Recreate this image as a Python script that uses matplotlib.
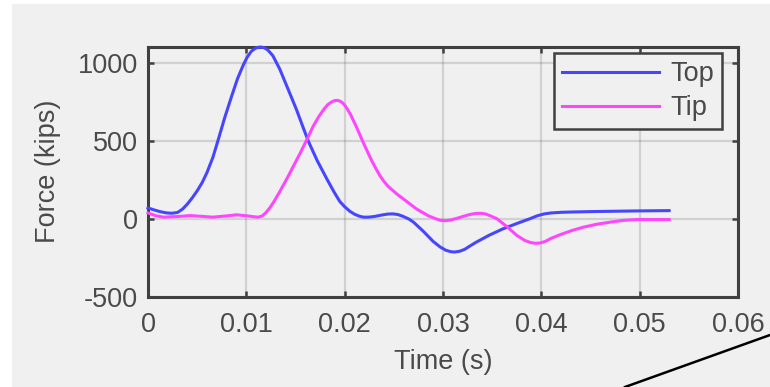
import matplotlib
matplotlib.use("Agg")
import matplotlib.pyplot as plt
from matplotlib.patches import Rectangle
from matplotlib.lines import Line2D

plt.rcParams['font.family'] = ['Liberation Sans', 'DejaVu Sans']

# Force histories at the pile top and tip
t_top = [0.0000, 0.0006, 0.0012, 0.0018, 0.0024, 0.0030, 0.0035, 0.0040, 0.0045, 0.0050,
         0.0055, 0.0060, 0.0066, 0.00715, 0.0078, 0.0085, 0.0091, 0.0097, 0.0101, 0.0105,
         0.0109, 0.0112, 0.01146, 0.0118, 0.0122, 0.0127, 0.0134, 0.0142, 0.0151, 0.0157,
         0.0163, 0.0172, 0.0182, 0.0189, 0.0195, 0.0200, 0.0205, 0.0210, 0.0215, 0.0219,
         0.0224, 0.0230, 0.0238, 0.0244, 0.0249, 0.0254, 0.0259, 0.0265, 0.0270, 0.0280,
         0.0290, 0.0297, 0.0303, 0.0308, 0.0312, 0.0317, 0.0322, 0.0328, 0.0334, 0.0347,
         0.0361, 0.0375, 0.0388, 0.0396, 0.0403, 0.0410, 0.0420, 0.0430, 0.0453, 0.0475,
         0.0497, 0.0530]
f_top = [70, 58, 47, 39, 36, 41, 62, 95, 135, 180,
         232, 298, 395, 510, 650, 787, 900, 990, 1040, 1076,
         1095, 1102, 1104, 1100, 1084, 1048, 962, 840, 702, 600,
         500, 375, 255, 175, 112, 78, 50, 30, 17, 11,
         11, 15, 25, 31, 32, 28, 17, 0, -21, -80,
         -145, -180, -202, -211, -213, -208, -196, -172, -149, -105,
         -64, -30, 0, 20, 32, 38, 42, 44, 47, 49,
         51, 53]

t_tip = [0.0000, 0.0008, 0.00156, 0.0030, 0.0043, 0.0055, 0.0066, 0.0078, 0.0090, 0.0100,
         0.0107, 0.0112, 0.0116, 0.0120, 0.0124, 0.0128, 0.0134, 0.0141, 0.0148, 0.0155,
         0.0162, 0.0168, 0.0174, 0.0179, 0.0183, 0.0187, 0.0190, 0.0193, 0.0196, 0.0199,
         0.0202, 0.0206, 0.0212, 0.0219, 0.0227, 0.0232, 0.0236, 0.0240, 0.0244, 0.0253,
         0.0263, 0.0273, 0.0285, 0.0292, 0.0297, 0.0302, 0.0308, 0.0314, 0.0320, 0.0326,
         0.0332, 0.0338, 0.0343, 0.0348, 0.0355, 0.0365, 0.0375, 0.0383, 0.0389, 0.0394,
         0.0399, 0.0404, 0.0410, 0.0419, 0.0431, 0.0443, 0.0456, 0.0470, 0.0483, 0.0497,
         0.0530]
f_tip = [38, 20, 11, 15, 21, 16, 11, 18, 26, 20,
         14, 11, 18, 40, 72, 110, 175, 255, 340, 425,
         515, 595, 660, 705, 735, 752, 760, 761, 754, 738,
         713, 670, 590, 489, 380, 320, 276, 240, 210, 160,
         112, 64, 20, 2, -9, -12, -7, 3, 15, 26,
         34, 36, 32, 20, 0, -50, -106, -138, -152, -157,
         -155, -145, -125, -102, -75, -53, -35, -21, -10, -4,
         -4]

x_ticks = [0, 0.01, 0.02, 0.03, 0.04, 0.05, 0.06]
x_tick_labels = ['0', '0.01', '0.02', '0.03', '0.04', '0.05', '0.06']
y_ticks = [-500, 0, 500, 1000]
y_tick_labels = ['-500', '0', '500', '1000']

W, H = 770, 387
fig = plt.figure(figsize=(W / 100, H / 100), dpi=100, facecolor='white')

# grey panel behind the axes
fig.add_artist(Rectangle((12 / W, 0), 1 - 12 / W, (H - 4) / H,
                         transform=fig.transFigure, facecolor='#f0f0f0',
                         edgecolor='none', zorder=-5))

ax = fig.add_axes([148 / W, 1 - 296.7 / H, (738 - 148) / W, (296.7 - 46.7) / H])
ax.set_facecolor('#f0f0f0')

ax.plot(t_top, f_top, color='#4646ff', lw=2.2, label='Top', zorder=3,
        solid_joinstyle='round', clip_on=False)
ax.plot(t_tip, f_tip, color='#ff46ff', lw=2.2, label='Tip', zorder=3,
        solid_joinstyle='round', clip_on=False)

ax.set_xlim(0, 0.06)
ax.set_ylim(-500, 1106)
ax.set_xticks(x_ticks)
ax.set_xticklabels(x_tick_labels)
ax.set_yticks(y_ticks)
ax.set_yticklabels(y_tick_labels)

ax.grid(True, color='#262626', alpha=0.15, lw=1.6)
ax.set_axisbelow(True)

axis_col = '#404040'
for s in ax.spines.values():
    s.set_color(axis_col)
    s.set_linewidth(2.2)
    s.set_zorder(2.5)
ax.tick_params(direction='in', length=4, width=1.8, color=axis_col,
               top=True, right=True, labelsize=19.5, labelcolor='#4a4a4a')
ax.tick_params(axis='x', pad=11)
ax.tick_params(axis='y', pad=7)

ax.set_xlabel('Time (s)', fontsize=19.5, color='#4a4a4a', labelpad=8)
ax.set_ylabel('Force (kips)', fontsize=19.5, color='#4a4a4a', labelpad=12)

leg = ax.legend(loc='upper right', bbox_to_anchor=((722 - 148) / 590, (296.7 - 53) / 250),
                borderaxespad=0, fontsize=19.5, handlelength=3.6, handletextpad=0.4,
                labelspacing=0.3, borderpad=0.3, fancybox=False, framealpha=1,
                facecolor='#f0f0f0', edgecolor=axis_col)
leg.get_frame().set_linewidth(1.8)
leg.set_zorder(5)
for txt in leg.get_texts():
    txt.set_color('#4a4a4a')

# stray pointer line in the lower right corner
fig.add_artist(Line2D([625 / W, 1.0], [0, 52 / H], transform=fig.transFigure,
                      color='black', lw=1.8))

fig.savefig('out.png', dpi=100, facecolor=fig.get_facecolor())
